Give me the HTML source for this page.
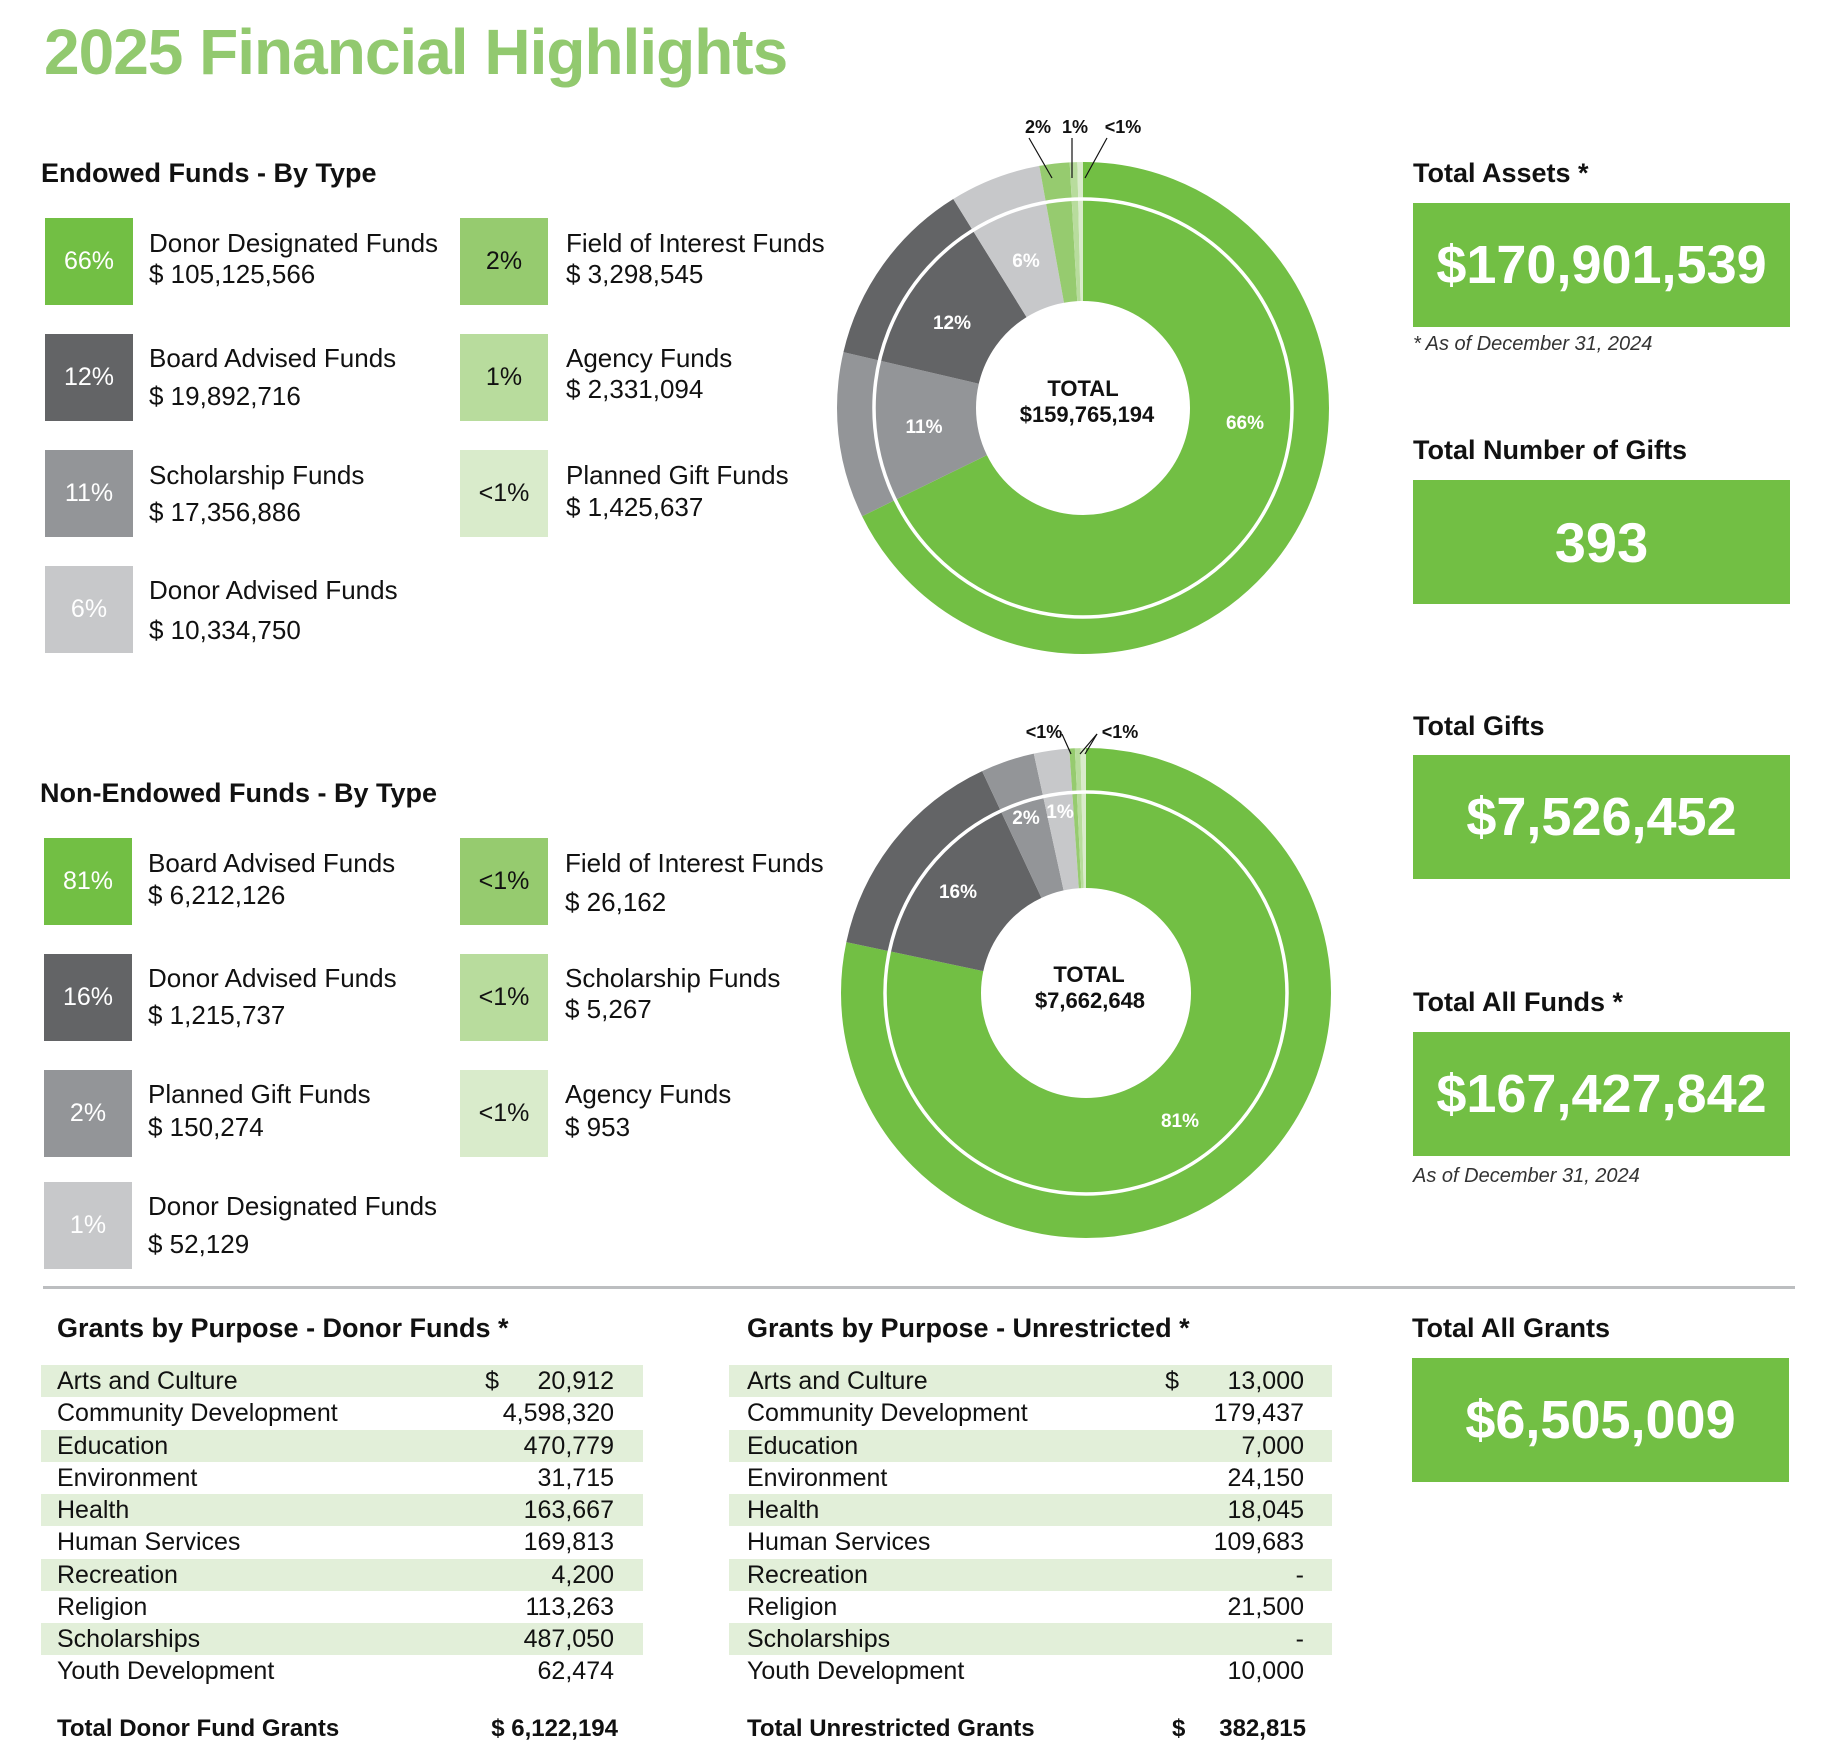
<!DOCTYPE html>
<html><head><meta charset="utf-8">
<style>
body{margin:0;width:1829px;height:1753px;background:#fff;position:relative;overflow:hidden;font-family:"Liberation Sans",sans-serif;color:#111}
.t{position:absolute;white-space:nowrap;line-height:1}
.h{font-weight:bold;font-size:27px}
.n{font-size:26px}
.box{position:absolute;width:88px;height:87px;display:flex;align-items:center;justify-content:center;font-size:25px}
.big{position:absolute;left:1413px;width:377px;height:124px;background:#72bf44;color:#fff;font-weight:bold;font-size:54px;display:flex;align-items:center;justify-content:center}
.band{position:absolute;height:32px;background:#e2efd9}
</style></head><body>
<div class="t" style="left:44px;top:20px;font-size:64px;font-weight:bold;color:#92c96f;letter-spacing:-1px">2025 Financial Highlights</div>

<div class="t h" style="left:41px;top:160px">Endowed Funds - By Type</div>
<div class="box" style="left:45px;top:218px;background:#72bf44;color:#fff">66%</div>
<div class="box" style="left:45px;top:334px;background:#636466;color:#fff">12%</div>
<div class="box" style="left:45px;top:450px;background:#939598;color:#fff">11%</div>
<div class="box" style="left:45px;top:566px;background:#c7c8ca;color:#fff">6%</div>
<div class="box" style="left:460px;top:218px;background:#96cb6f">2%</div>
<div class="box" style="left:460px;top:334px;background:#b8dc9d">1%</div>
<div class="box" style="left:460px;top:450px;background:#d9ebcb">&lt;1%</div>
<div class="t n" style="left:149px;top:230px">Donor Designated Funds</div>
<div class="t n" style="left:149px;top:261px">$ 105,125,566</div>
<div class="t n" style="left:149px;top:345px">Board Advised Funds</div>
<div class="t n" style="left:149px;top:383px">$ 19,892,716</div>
<div class="t n" style="left:149px;top:462px">Scholarship Funds</div>
<div class="t n" style="left:149px;top:499px">$ 17,356,886</div>
<div class="t n" style="left:149px;top:577px">Donor Advised Funds</div>
<div class="t n" style="left:149px;top:617px">$ 10,334,750</div>
<div class="t n" style="left:566px;top:230px">Field of Interest Funds</div>
<div class="t n" style="left:566px;top:261px">$ 3,298,545</div>
<div class="t n" style="left:566px;top:345px">Agency Funds</div>
<div class="t n" style="left:566px;top:376px">$ 2,331,094</div>
<div class="t n" style="left:566px;top:462px">Planned Gift Funds</div>
<div class="t n" style="left:566px;top:494px">$ 1,425,637</div>

<div class="t h" style="left:40px;top:780px">Non-Endowed Funds - By Type</div>
<div class="box" style="left:44px;top:838px;background:#72bf44;color:#fff">81%</div>
<div class="box" style="left:44px;top:954px;background:#636466;color:#fff">16%</div>
<div class="box" style="left:44px;top:1070px;background:#939598;color:#fff">2%</div>
<div class="box" style="left:44px;top:1182px;background:#c7c8ca;color:#fff">1%</div>
<div class="box" style="left:460px;top:838px;background:#96cb6f">&lt;1%</div>
<div class="box" style="left:460px;top:954px;background:#b8dc9d">&lt;1%</div>
<div class="box" style="left:460px;top:1070px;background:#d9ebcb">&lt;1%</div>
<div class="t n" style="left:148px;top:850px">Board Advised Funds</div>
<div class="t n" style="left:148px;top:882px">$ 6,212,126</div>
<div class="t n" style="left:148px;top:965px">Donor Advised Funds</div>
<div class="t n" style="left:148px;top:1002px">$ 1,215,737</div>
<div class="t n" style="left:148px;top:1081px">Planned Gift Funds</div>
<div class="t n" style="left:148px;top:1114px">$ 150,274</div>
<div class="t n" style="left:148px;top:1193px">Donor Designated Funds</div>
<div class="t n" style="left:148px;top:1231px">$ 52,129</div>
<div class="t n" style="left:565px;top:850px">Field of Interest Funds</div>
<div class="t n" style="left:565px;top:889px">$ 26,162</div>
<div class="t n" style="left:565px;top:965px">Scholarship Funds</div>
<div class="t n" style="left:565px;top:996px">$ 5,267</div>
<div class="t n" style="left:565px;top:1081px">Agency Funds</div>
<div class="t n" style="left:565px;top:1114px">$ 953</div>

<svg width="1829" height="1753" style="position:absolute;left:0;top:0" font-family="Liberation Sans, sans-serif" font-weight="bold">
 <g transform="translate(1083,408) rotate(-90)" fill="none" stroke-width="139">
  <circle r="176.5" stroke="#72bf44" stroke-dasharray="751 2000"/>
  <circle r="176.5" stroke="#939598" stroke-dasharray="120.9 2000" stroke-dashoffset="-751"/>
  <circle r="176.5" stroke="#636466" stroke-dasharray="138.6 2000" stroke-dashoffset="-871.9"/>
  <circle r="176.5" stroke="#c7c8ca" stroke-dasharray="66.5 2000" stroke-dashoffset="-1010.5"/>
  <circle r="176.5" stroke="#96cb6f" stroke-dasharray="21.9 2000" stroke-dashoffset="-1077"/>
  <circle r="176.5" stroke="#b8dc9d" stroke-dasharray="5.5 2000" stroke-dashoffset="-1098.9"/>
  <circle r="176.5" stroke="#d9ebcb" stroke-dasharray="6 2000" stroke-dashoffset="-1104.4"/>
  <circle r="209" stroke="#fff" stroke-width="3.5"/>
 </g>
 <g fill="#fff" font-size="19" text-anchor="middle">
  <text x="1245" y="429">66%</text><text x="924" y="433">11%</text>
  <text x="952" y="329">12%</text><text x="1026" y="267">6%</text>
 </g>
 <g fill="#111" text-anchor="middle">
  <text x="1083" y="396" font-size="22">TOTAL</text>
  <text x="1087" y="422" font-size="22">$159,765,194</text>
  <text x="1038" y="133" font-size="18">2%</text><text x="1075" y="133" font-size="18">1%</text><text x="1123" y="133" font-size="18">&lt;1%</text>
 </g>
 <g stroke="#111" stroke-width="1.2">
  <line x1="1029" y1="138" x2="1052" y2="178"/><line x1="1072" y1="138" x2="1072" y2="178"/><line x1="1107" y1="138" x2="1085" y2="178"/>
 </g>

 <g transform="translate(1086,993) rotate(-90)" fill="none" stroke-width="140">
  <circle r="175" stroke="#72bf44" stroke-dasharray="861 2000"/>
  <circle r="175" stroke="#636466" stroke-dasharray="161.5 2000" stroke-dashoffset="-861"/>
  <circle r="175" stroke="#939598" stroke-dasharray="39 2000" stroke-dashoffset="-1022.5"/>
  <circle r="175" stroke="#c7c8ca" stroke-dasharray="25.6 2000" stroke-dashoffset="-1061.5"/>
  <circle r="175" stroke="#96cb6f" stroke-dasharray="4 2000" stroke-dashoffset="-1087.1"/>
  <circle r="175" stroke="#b8dc9d" stroke-dasharray="4 2000" stroke-dashoffset="-1091.1"/>
  <circle r="175" stroke="#d9ebcb" stroke-dasharray="5 2000" stroke-dashoffset="-1095.1"/>
  <circle r="201" stroke="#fff" stroke-width="3.5"/>
 </g>
 <g fill="#fff" font-size="19" text-anchor="middle">
  <text x="1180" y="1127">81%</text><text x="958" y="898">16%</text>
  <text x="1026" y="824">2%</text><text x="1060" y="818">1%</text>
 </g>
 <g fill="#111" text-anchor="middle">
  <text x="1089" y="982" font-size="22">TOTAL</text>
  <text x="1090" y="1008" font-size="22">$7,662,648</text>
  <text x="1044" y="738" font-size="18">&lt;1%</text><text x="1120" y="738" font-size="18">&lt;1%</text>
 </g>
 <g stroke="#111" stroke-width="1.2">
  <line x1="1062" y1="734" x2="1071" y2="754"/><line x1="1097" y1="734" x2="1080" y2="754"/><line x1="1097" y1="734" x2="1085" y2="754"/>
 </g>
</svg>

<div class="t h" style="left:1413px;top:160px">Total Assets *</div>
<div class="big" style="top:203px">$170,901,539</div>
<div class="t" style="left:1413px;top:334px;font-size:20px;font-style:italic;color:#333">* As of December 31, 2024</div>
<div class="t h" style="left:1413px;top:437px">Total Number of Gifts</div>
<div class="big" style="top:480px;font-size:56px">393</div>
<div class="t h" style="left:1413px;top:713px">Total Gifts</div>
<div class="big" style="top:755px">$7,526,452</div>
<div class="t h" style="left:1413px;top:989px">Total All Funds *</div>
<div class="big" style="top:1032px">$167,427,842</div>
<div class="t" style="left:1413px;top:1166px;font-size:20px;font-style:italic;color:#333">As of December 31, 2024</div>

<div style="position:absolute;left:43px;top:1286px;width:1752px;height:3px;background:#bcbec0"></div>

<div class="t h" style="left:1412px;top:1315px">Total All Grants</div>
<div class="big" style="top:1358px;left:1412px">$6,505,009</div>

<div class="t h" style="left:57px;top:1315px">Grants by Purpose - Donor Funds *</div>
<div class="t h" style="left:747px;top:1315px">Grants by Purpose - Unrestricted *</div>

<div class="band" style="left:41px;top:1365px;width:602px"></div>
<div class="band" style="left:41px;top:1430px;width:602px"></div>
<div class="band" style="left:41px;top:1494px;width:602px"></div>
<div class="band" style="left:41px;top:1559px;width:602px"></div>
<div class="band" style="left:41px;top:1623px;width:602px"></div>
<div class="band" style="left:729px;top:1365px;width:603px"></div>
<div class="band" style="left:729px;top:1430px;width:603px"></div>
<div class="band" style="left:729px;top:1494px;width:603px"></div>
<div class="band" style="left:729px;top:1559px;width:603px"></div>
<div class="band" style="left:729px;top:1623px;width:603px"></div>

<div style="position:absolute;left:57px;top:1365px;width:557px;font-size:25px;line-height:32.25px">
<div style="display:flex;justify-content:space-between"><span>Arts and Culture</span><span style="position:relative"><span style="position:absolute;right:115px">$</span>20,912</span></div>
<div style="display:flex;justify-content:space-between"><span>Community Development</span><span>4,598,320</span></div>
<div style="display:flex;justify-content:space-between"><span>Education</span><span>470,779</span></div>
<div style="display:flex;justify-content:space-between"><span>Environment</span><span>31,715</span></div>
<div style="display:flex;justify-content:space-between"><span>Health</span><span>163,667</span></div>
<div style="display:flex;justify-content:space-between"><span>Human Services</span><span>169,813</span></div>
<div style="display:flex;justify-content:space-between"><span>Recreation</span><span>4,200</span></div>
<div style="display:flex;justify-content:space-between"><span>Religion</span><span>113,263</span></div>
<div style="display:flex;justify-content:space-between"><span>Scholarships</span><span>487,050</span></div>
<div style="display:flex;justify-content:space-between"><span>Youth Development</span><span>62,474</span></div>
</div>

<div style="position:absolute;left:747px;top:1365px;width:557px;font-size:25px;line-height:32.25px">
<div style="display:flex;justify-content:space-between"><span>Arts and Culture</span><span style="position:relative"><span style="position:absolute;right:125px">$</span>13,000</span></div>
<div style="display:flex;justify-content:space-between"><span>Community Development</span><span>179,437</span></div>
<div style="display:flex;justify-content:space-between"><span>Education</span><span>7,000</span></div>
<div style="display:flex;justify-content:space-between"><span>Environment</span><span>24,150</span></div>
<div style="display:flex;justify-content:space-between"><span>Health</span><span>18,045</span></div>
<div style="display:flex;justify-content:space-between"><span>Human Services</span><span>109,683</span></div>
<div style="display:flex;justify-content:space-between"><span>Recreation</span><span>-</span></div>
<div style="display:flex;justify-content:space-between"><span>Religion</span><span>21,500</span></div>
<div style="display:flex;justify-content:space-between"><span>Scholarships</span><span>-</span></div>
<div style="display:flex;justify-content:space-between"><span>Youth Development</span><span>10,000</span></div>
</div>

<div class="t" style="left:57px;top:1717px;font-size:24px;font-weight:bold">Total Donor Fund Grants</div>
<div class="t" style="left:470px;top:1717px;width:148px;text-align:right;font-size:24px;font-weight:bold">$ 6,122,194</div>
<div class="t" style="left:747px;top:1717px;font-size:24px;font-weight:bold">Total Unrestricted Grants</div>
<div class="t" style="left:1172px;top:1717px;font-size:24px;font-weight:bold">$</div>
<div class="t" style="left:1200px;top:1717px;width:106px;text-align:right;font-size:24px;font-weight:bold">382,815</div>
</body></html>
